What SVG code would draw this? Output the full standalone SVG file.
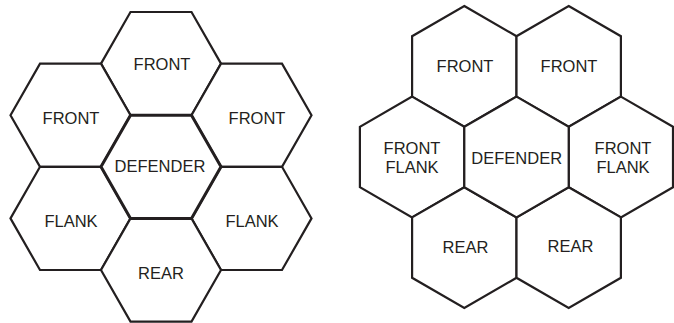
<svg xmlns="http://www.w3.org/2000/svg" width="674" height="323" viewBox="0 0 674 323">
<style>
.hex{fill:#fff;stroke:#231f20;stroke-width:2.2;stroke-linejoin:miter}
.ctr{stroke-width:3}
.lbl{font-family:"Liberation Sans",Arial,sans-serif;font-size:16.5px;fill:#231f20;text-anchor:middle}
</style>
<rect width="674" height="323" fill="#fff"/>
<g id="left">
<g id="l-front-top"><polygon class="hex" points="101,63.6 130.5,12 191.5,12 221,63.6 191.5,115.2 130.5,115.2"/><text class="lbl" x="162" y="70">FRONT</text></g>
<g id="l-front-left"><polygon class="hex" points="10.5,115.2 40,63.6 101,63.6 130.5,115.2 101,166.8 40,166.8"/><text class="lbl" x="71" y="124">FRONT</text></g>
<g id="l-front-right"><polygon class="hex" points="191.5,115.2 221,63.6 282,63.6 311.5,115.2 282,166.8 221,166.8"/><text class="lbl" x="257" y="124">FRONT</text></g>
<g id="l-flank-left"><polygon class="hex" points="10.5,218.4 40,166.8 101,166.8 130.5,218.4 101,270 40,270"/><text class="lbl" x="71" y="226.5">FLANK</text></g>
<g id="l-flank-right"><polygon class="hex" points="191.5,218.4 221,166.8 282,166.8 311.5,218.4 282,270 221,270"/><text class="lbl" x="252" y="226.5">FLANK</text></g>
<g id="l-rear"><polygon class="hex" points="101,270 130.5,218.4 191.5,218.4 221,270 191.5,321.6 130.5,321.6"/><text class="lbl" x="161" y="278.5">REAR</text></g>
<g id="l-defender"><polygon class="hex ctr" points="101,166.8 130.5,115.2 191.5,115.2 221,166.8 191.5,218.4 130.5,218.4"/><text class="lbl" x="160" y="171.5">DEFENDER</text></g>
</g>
<g id="right">
<g id="r-front-left"><polygon class="hex" points="464.3,6 516.5,36.2 516.5,96.6 464.3,126.8 412.1,96.6 412.1,36.2"/><text class="lbl" x="465" y="71.5">FRONT</text></g>
<g id="r-front-right"><polygon class="hex" points="568.7,6 620.9,36.2 620.9,96.6 568.7,126.8 516.5,96.6 516.5,36.2"/><text class="lbl" x="569" y="71.5">FRONT</text></g>
<g id="r-frontflank-left"><polygon class="hex" points="412.1,96.6 464.3,126.8 464.3,187.2 412.1,217.4 359.9,187.2 359.9,126.8"/><text class="lbl" x="412" y="154.3">FRONT</text><text class="lbl" x="412" y="173.3">FLANK</text></g>
<g id="r-frontflank-right"><polygon class="hex" points="620.9,96.6 673,126.8 673,187.2 620.9,217.4 568.7,187.2 568.7,126.8"/><text class="lbl" x="623" y="154.3">FRONT</text><text class="lbl" x="623" y="173.3">FLANK</text></g>
<g id="r-rear-left"><polygon class="hex" points="464.3,187.2 516.5,217.4 516.5,277.8 464.3,308 412.1,277.8 412.1,217.4"/><text class="lbl" x="465.5" y="252.7">REAR</text></g>
<g id="r-rear-right"><polygon class="hex" points="568.7,187.2 620.9,217.4 620.9,277.8 568.7,308 516.5,277.8 516.5,217.4"/><text class="lbl" x="570.5" y="251.7">REAR</text></g>
<g id="r-defender"><polygon class="hex" points="516.5,96.6 568.7,126.8 568.7,187.2 516.5,217.4 464.3,187.2 464.3,126.8"/><text class="lbl" x="516.7" y="164">DEFENDER</text></g>
</g>
</svg>
